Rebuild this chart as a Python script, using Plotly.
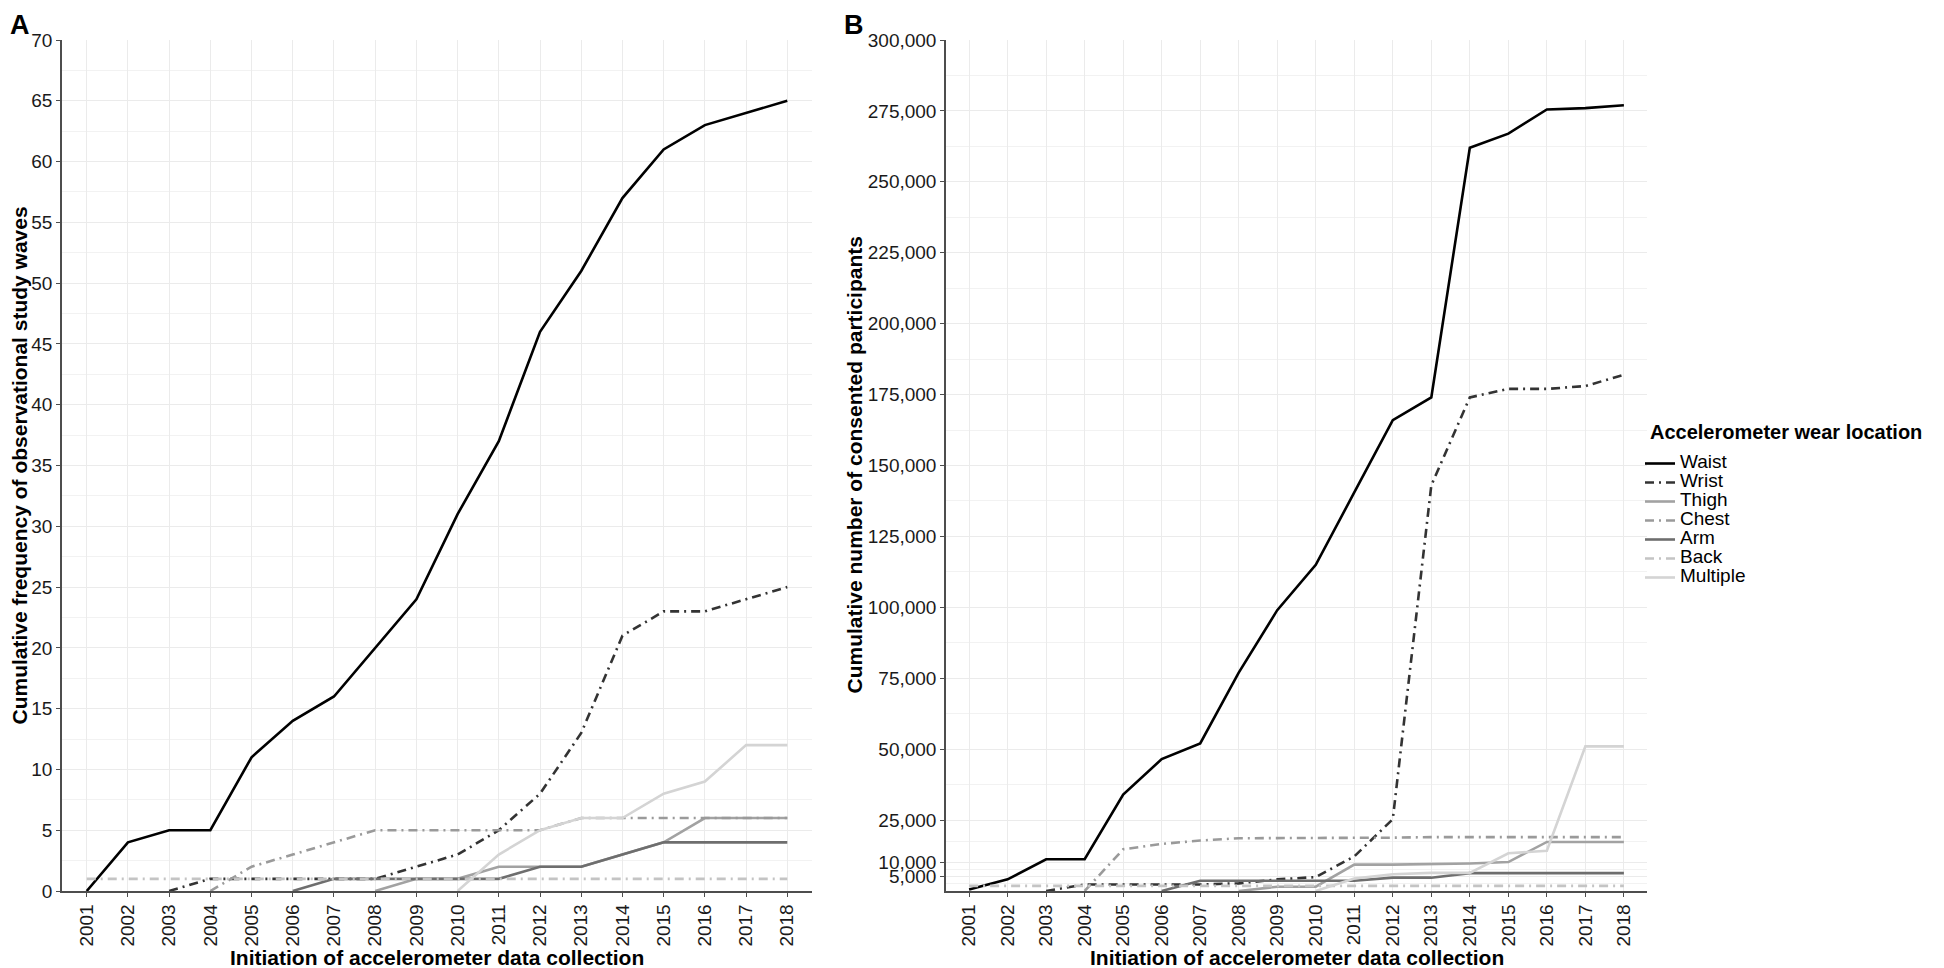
import plotly.graph_objects as go

# ---------------- data ----------------
years = list(range(2001, 2019))
year_labels = [str(y) for y in years]

series_names = ["Waist", "Wrist", "Thigh", "Chest", "Arm", "Back", "Multiple"]
series_colors = ["#000000", "#333333", "#a2a2a2", "#9a9a9a", "#6e6e6e", "#c4c4c4", "#d4d4d4"]
series_dash = ["solid", "dashdot", "solid", "dashdot", "solid", "dashdot", "solid"]

# Panel A: cumulative frequency of observational study waves
waist_a = [0, 4, 5, 5, 11, 14, 16, 20, 24, 31, 37, 46, 51, 57, 61, 63, 64, 65]
wrist_a = [None, None, 0, 1, 1, 1, 1, 1, 2, 3, 5, 8, 13, 21, 23, 23, 24, 25]
thigh_a = [None] * 7 + [0, 1, 1, 2, 2, 2, 3, 4, 6, 6, 6]
chest_a = [None] * 3 + [0, 2, 3, 4, 5, 5, 5, 5, 5, 6, 6, 6, 6, 6, 6]
arm_a = [None] * 5 + [0, 1, 1, 1, 1, 1, 2, 2, 3, 4, 4, 4, 4]
back_a = [1] * 18
multiple_a = [None] * 9 + [0, 3, 5, 6, 6, 8, 9, 12, 12]

# Panel B: cumulative number of consented participants
waist_b = [500, 4100, 11200, 11200, 34000, 46500, 52000, 77000, 99000, 115000,
           140500, 166000, 174000, 262000, 267000, 275500, 276000, 277000]
wrist_b = [None, None, 0, 2300, 2300, 2300, 2300, 2700, 4100, 4900, 12200, 25300,
           143000, 174000, 177000, 177000, 178000, 182000]
thigh_b = [None] * 7 + [0, 1500, 1500, 9300, 9300, 9400, 9700, 10200, 17300, 17300, 17300]
chest_b = [None] * 3 + [0, 14700, 16600, 17800, 18600, 18600, 18600, 18700, 18800,
                        19000, 19000, 19100, 19000, 19000, 19000]
arm_b = [None] * 5 + [0, 3600, 3600, 3600, 3600, 3600, 4700, 4700, 6300, 6300, 6300, 6300, 6300]
back_b = [1800] * 18
multiple_b = [None] * 9 + [0, 4400, 5900, 6400, 6400, 13300, 14200, 51000, 51000]

panel_a = [waist_a, wrist_a, thigh_a, chest_a, arm_a, back_a, multiple_a]
panel_b = [waist_b, wrist_b, thigh_b, chest_b, arm_b, back_b, multiple_b]

ticks_a = list(range(0, 71, 5))
ticks_b = [5000, 10000, 25000, 50000, 75000, 100000, 125000, 150000, 175000,
           200000, 225000, 250000, 275000, 300000]
minor_b = [2500, 7500, 17500, 37500, 62500, 87500, 112500, 137500, 162500,
           187500, 212500, 237500, 262500, 287500]

# ---------------- figure ----------------
OFF = 8                      # page body margin of the html page
W, H = 1944 - OFF, 968 - OFF
FONT = "Liberation Sans, Arial, Helvetica, sans-serif"
DASH = {"solid": "solid", "dashdot": "9px,5px,2px,5px"}

fig = go.Figure()
for name, col, dsh, ya, yb in zip(series_names, series_colors, series_dash, panel_a, panel_b):
    fig.add_trace(go.Scatter(
        x=years, y=ya, mode="lines", xaxis="x", yaxis="y",
        name='<span style="font-size:19px">' + name + '</span>',
        legendgroup=name, showlegend=True,
        line=dict(color=col, width=2.6, dash=DASH[dsh])))
    fig.add_trace(go.Scatter(
        x=years, y=yb, mode="lines", xaxis="x2", yaxis="y2",
        name=name, legendgroup=name, showlegend=False,
        line=dict(color=col, width=2.6, dash=DASH[dsh])))

# reference-pixel helpers (reference coordinates -> figure coordinates)
TOP_REF, BOT_REF = 40, 891
T = TOP_REF - OFF
B = H - (BOT_REF - OFF)
plot_h = H - T - B


def px(xref_px):
    return (xref_px - OFF) / W


def py(yref_px):
    return (BOT_REF - yref_px) / plot_h


x_dom_a = [px(62), px(812)]
x_dom_b = [px(946), px(1647)]

common_x = dict(
    range=[2000.4, 2018.6], tickmode="array", tickvals=years, ticktext=year_labels,
    tickangle=-90, showgrid=True, gridcolor="#ebebeb", gridwidth=1,
    zeroline=False, showline=True, linecolor="#4d4d4d", linewidth=1.5,
    ticks="outside", ticklen=4, tickcolor="#4d4d4d", tickwidth=1.2,
    tickfont=dict(family=FONT, size=19, color="#1a1a1a"), fixedrange=True)
common_y = dict(
    showgrid=True, gridcolor="#ebebeb", gridwidth=1, zeroline=False,
    showline=True, linecolor="#4d4d4d", linewidth=1.5,
    ticks="outside", ticklen=4, tickcolor="#4d4d4d", tickwidth=1.2,
    tickfont=dict(family=FONT, size=19, color="#1a1a1a"), fixedrange=True)

fig.update_layout(
    width=W, height=H, autosize=False,
    margin=dict(l=0, r=0, t=T, b=B),
    paper_bgcolor="white", plot_bgcolor="white",
    font=dict(family=FONT, color="#000000"),
    xaxis=dict(domain=x_dom_a, anchor="y", **common_x),
    xaxis2=dict(domain=x_dom_b, anchor="y2", **common_x),
    yaxis=dict(domain=[0, 1], anchor="x", range=[0, 70], tickmode="array",
               tickvals=ticks_a, ticktext=[str(v) for v in ticks_a],
               minor=dict(tickmode="array", tickvals=[v + 2.5 for v in ticks_a[:-1]],
                          showgrid=True, gridcolor="#f2f2f2", gridwidth=1, ticks=""),
               **common_y),
    yaxis2=dict(domain=[0, 1], anchor="x2", range=[0, 300000], tickmode="array",
                tickvals=ticks_b, ticktext=[f"{v:,}" for v in ticks_b],
                minor=dict(tickmode="array", tickvals=minor_b, showgrid=True,
                           gridcolor="#f2f2f2", gridwidth=1, ticks=""),
                **common_y),
    legend=dict(
        x=px(1640), xref="paper", xanchor="left",
        y=py(449), yanchor="top",
        bgcolor="rgba(0,0,0,0)", borderwidth=0,
        font=dict(family=FONT, size=12, color="#000000"),
        tracegroupgap=0, itemwidth=30),
    showlegend=True,
)

x_title = "Initiation of accelerometer data collection"
bold21 = dict(family=FONT, size=21, color="#000000")
ann = [
    dict(text="<b>A</b>", x=px(8), y=py(8), xanchor="left", yanchor="top",
         font=dict(family=FONT, size=27, color="#000000")),
    dict(text="<b>B</b>", x=px(842), y=py(8), xanchor="left", yanchor="top",
         font=dict(family=FONT, size=27, color="#000000")),
    dict(text="<b>" + x_title + "</b>", x=sum(x_dom_a) / 2, y=py(957),
         xanchor="center", yanchor="middle", font=bold21),
    dict(text="<b>" + x_title + "</b>", x=sum(x_dom_b) / 2, y=py(957),
         xanchor="center", yanchor="middle", font=bold21),
    dict(text="<b>Cumulative frequency of observational study waves</b>",
         x=px(19), y=0.5, textangle=-90, xanchor="center", yanchor="middle", font=bold21),
    dict(text="<b>Cumulative number of consented participants</b>",
         x=px(854), y=0.5, textangle=-90, xanchor="center", yanchor="middle", font=bold21),
    dict(text="<b>Accelerometer wear location</b>", x=px(1648), y=py(432),
         xanchor="left", yanchor="middle",
         font=dict(family=FONT, size=20, color="#000000")),
]
for a in ann:
    a.update(xref="paper", yref="paper", showarrow=False)
fig.update_layout(annotations=ann)

fig.write_html("out.html")
